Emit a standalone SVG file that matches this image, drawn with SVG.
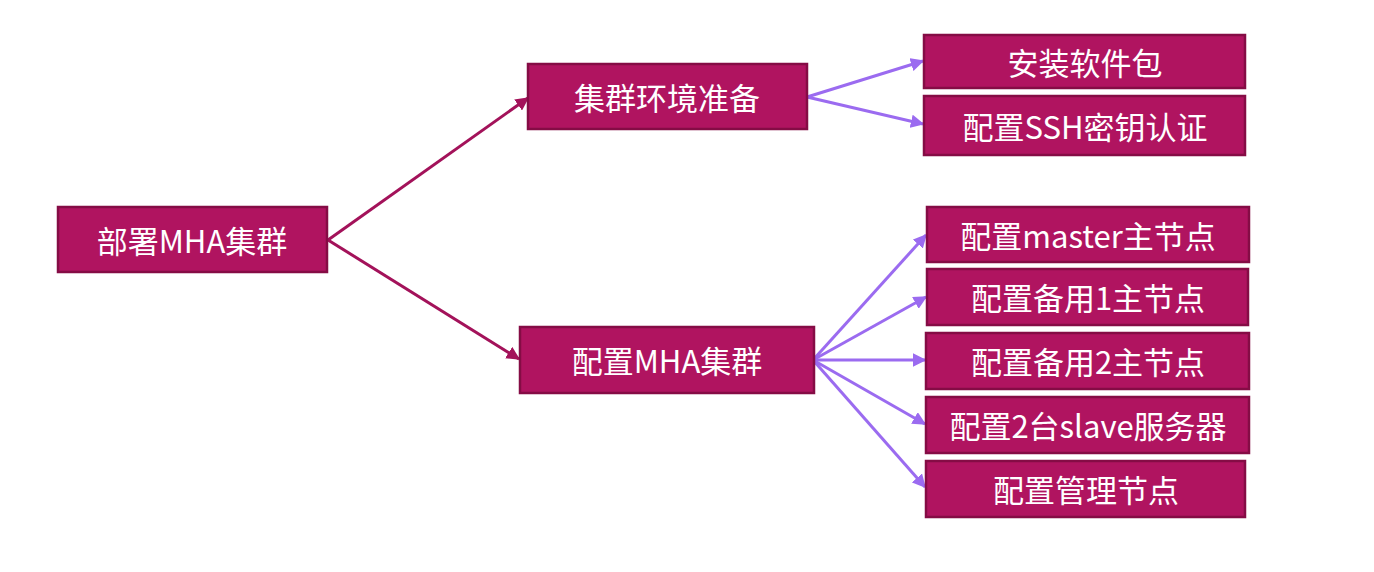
<svg xmlns="http://www.w3.org/2000/svg" width="1374" height="572" viewBox="0 0 1374 572">
<defs>
<style>
.box{fill:#B01460;stroke:#850C45;stroke-width:2.5}
.t{fill:#FFFFFF;font-family:"Noto Sans CJK SC","Noto Sans",sans-serif;font-size:31px;text-anchor:middle;dominant-baseline:central}
.c1{stroke:#A3125A;stroke-width:3;fill:none;marker-end:url(#m1)}
.c2{stroke:#9B6BF0;stroke-width:3;fill:none;marker-end:url(#m2)}
</style>
<marker id="m1" viewBox="0 0 10 10" refX="9" refY="5" markerWidth="4.5" markerHeight="4.5" orient="auto"><path d="M0,0 L10,5 L0,10 Z" fill="#A3125A"/></marker>
<marker id="m2" viewBox="0 0 10 10" refX="9" refY="5" markerWidth="4.5" markerHeight="4.5" orient="auto"><path d="M0,0 L10,5 L0,10 Z" fill="#9B6BF0"/></marker>
</defs>
<rect width="1374" height="572" fill="#FFFFFF"/>
<g id="connectors">
<path class="c1" d="M328,240 L528,98"/>
<path class="c1" d="M328,240 L519,359"/>
<path class="c2" d="M807,97 L923,61"/>
<path class="c2" d="M807,97 L923,124"/>
<path class="c2" d="M813,360 L926,235"/>
<path class="c2" d="M813,360 L926,297"/>
<path class="c2" d="M813,360 L925,360"/>
<path class="c2" d="M813,360 L925,424"/>
<path class="c2" d="M813,360 L925,487"/>
</g>
<g id="n-root"><rect class="box" x="58" y="207" width="269" height="65"/><text class="t" x="192" y="239">部署MHA集群</text></g>
<g id="n-env"><rect class="box" x="528" y="64" width="279" height="65"/><text class="t" x="667" y="96">集群环境准备</text></g>
<g id="n-cfg"><rect class="box" x="520" y="327" width="294" height="66"/><text class="t" x="667" y="359">配置MHA集群</text></g>
<g id="n-pkg"><rect class="box" x="924" y="35" width="321" height="53"/><text class="t" x="1085" y="61">安装软件包</text></g>
<g id="n-ssh"><rect class="box" x="924" y="96" width="321" height="59"/><text class="t" x="1085" y="125">配置SSH密钥认证</text></g>
<g id="n-master"><rect class="box" x="927" y="207" width="322" height="55"/><text class="t" x="1088" y="234">配置master主节点</text></g>
<g id="n-b1"><rect class="box" x="927" y="269" width="321" height="56"/><text class="t" x="1088" y="296">配置备用1主节点</text></g>
<g id="n-b2"><rect class="box" x="926" y="333" width="323" height="56"/><text class="t" x="1088" y="360">配置备用2主节点</text></g>
<g id="n-slave"><rect class="box" x="926" y="397" width="323" height="56"/><text class="t" x="1088" y="424">配置2台slave服务器</text></g>
<g id="n-mgr"><rect class="box" x="926" y="461" width="319" height="56"/><text class="t" x="1086" y="488">配置管理节点</text></g>
</svg>
